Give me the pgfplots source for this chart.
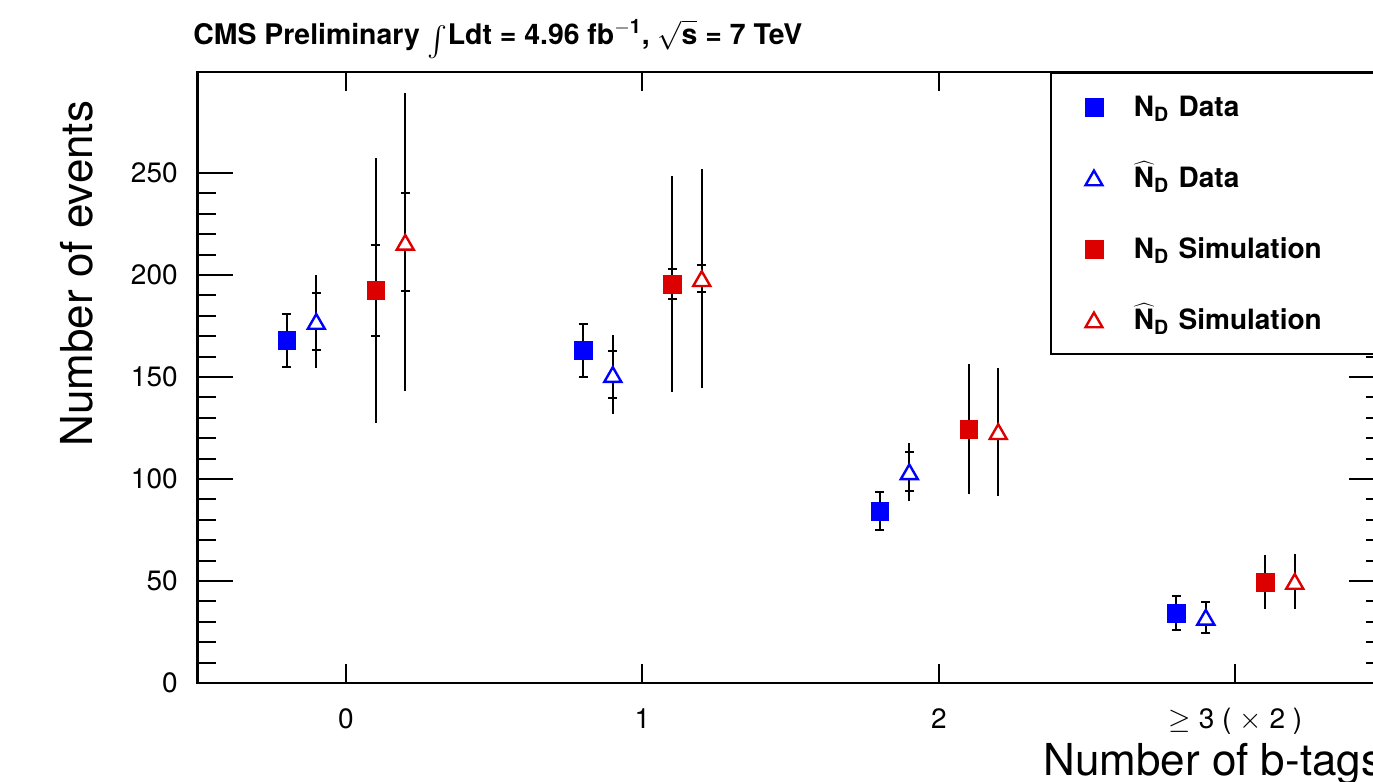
\documentclass[border=0pt]{standalone}
\usepackage{fontspec}
\setmainfont{TeX Gyre Heros}
\usepackage{graphicx}
\usepackage{pgfplots}
\pgfplotsset{compat=1.18}
\definecolor{rblue}{HTML}{0000FF}
\definecolor{rred}{HTML}{DD0000}

% x  y  inner error  outer error
\pgfplotstableread{
x y ein eout
-0.2 168.0 13.0 13.0
0.8 163.0 12.8 12.8
1.8 84.2 9.3 9.3
2.8 34.3 8.3 8.3
}\nddata
\pgfplotstableread{
x y ein eout
-0.1 177.2 13.8 23.0
0.9 151.2 11.5 19.5
1.9 103.5 9.6 14.3
2.9 32.2 7.5 7.5
}\nhdata
\pgfplotstableread{
x y ein eout
0.1 192.4 22.2 65.1
1.1 195.6 7.2 53.0
2.1 124.5 0 31.7
3.1 49.5 0 13.4
}\ndsim
\pgfplotstableread{
x y ein eout
0.2 216.0 24.0 73.0
1.2 198.2 6.7 53.7
2.2 123.2 0 31.4
3.2 49.8 0 13.4
}\nhsim

\pgfplotsset{
  outer err/.style={draw=none, mark=none, forget plot,
    error bars/.cd, y dir=both, y explicit, error mark=none,
    error bar style={draw=black, line width=1pt}},
  inner err/.style={draw=none, mark=none, forget plot,
    error bars/.cd, y dir=both, y explicit, error mark=-,
    error bar style={draw=black, line width=1pt},
    error mark options={rotate=90, mark size=2.2pt, draw=black, line width=1pt}},
}
\newcommand{\Nhat}{\ensuremath{\widehat{\mbox{N}}}}

\begin{document}
\begin{tikzpicture}
\useasboundingbox (0,0) rectangle (686.5pt,391pt);
\clip (0,0) rectangle (686.5pt,391pt);
\begin{axis}[
  at={(98.85pt,49.5pt)}, anchor=south west,
  scale only axis, width=593pt, height=305.5pt,
  xmin=-0.5, xmax=3.5, ymin=0, ymax=299.5,
  xtick={0,1,2,3},
  xticklabels={0,1,2,{$\geq$ 3 ( $\times$ 2 )}},
  ytick={0,50,100,150,200,250},
  minor y tick num=4,
  axis line style={line width=1.2pt},
  tick style={black, line width=1pt},
  major tick length=17.5pt, minor tick length=9pt,
  xtick style={/pgfplots/major tick length=9.5pt},
  /pgf/number format/assume math mode=true,
  tick label style={font=\fontsize{14}{16}\selectfont},
  xticklabel style={inner sep=0pt, text height=10pt, text depth=3pt, yshift=-12.5pt},
  yticklabel style={inner sep=0pt, xshift=-9.8pt},
  xlabel={Number of b-tags},
  xlabel style={at={(axis description cs:1,-0.1506)}, anchor=base east, inner sep=0pt, font=\fontsize{22}{26}\selectfont},
  ylabel={Number of events},
  ylabel style={at={(axis description cs:-0.0874,0.670)}, anchor=south, inner sep=0pt, font=\fontsize{22}{26}\selectfont},
  title={CMS Preliminary \raisebox{-0.55ex}{\scalebox{1.5}{$\int$}}Ldt = 4.96 fb$^{\mathbf{-1}}$, $\sqrt{\mbox{\bfseries s}}$ = 7 TeV},
  title style={at={(axis description cs:-0.004,1.026)}, anchor=base west, inner sep=0pt, font=\fontsize{14.2}{16}\selectfont\bfseries},
  legend cell align=left,
  legend image code/.code={%
    \path[draw=none, fill=none] (0pt,-1pt) rectangle (20pt,1pt);
    \draw[mark repeat=2,mark phase=2,#1] plot coordinates {(0pt,0pt)(10pt,0pt)(20pt,0pt)};},
  legend style={at={(0.7186,1)}, anchor=north west, draw=black, line width=1pt, fill=white,
    font=\fontsize{14}{16}\selectfont\bfseries,
    inner xsep=11.5pt, inner ysep=10pt, row sep=21.5pt,
    nodes={inner sep=0pt, text height=12pt, text depth=2pt},
    /tikz/every odd column/.append style={column sep=10pt},
    /tikz/every even column/.append style={text width=150pt}},
]
% outer (total) error lines
\addplot[outer err] table[x=x, y=y, y error=eout] {\nhdata};
\addplot[outer err] table[x=x, y=y, y error=eout] {\ndsim};
\addplot[outer err] table[x=x, y=y, y error=eout] {\nhsim};
% inner error with ticks
\addplot[inner err] table[x=x, y=y, y error=ein] {\nddata};
\addplot[inner err] table[x=x, y=y, y error=ein] {\nhdata};
\addplot[inner err] table[x=x, y=y, y error=ein] {\ndsim};
\addplot[inner err] table[x=x, y=y, y error=ein] {\nhsim};
% markers
\addplot[only marks, mark=square*, mark size=4.4pt, mark options={draw=rblue, fill=rblue, line width=0.2pt}] table[x=x, y=y] {\nddata};
\addlegendentry{N\textsubscript{D} Data}
\addplot[only marks, mark=triangle*, mark size=4.9pt, mark options={draw=rblue, fill=white, line width=1.2pt, yshift=-1.2pt}] table[x=x, y=y] {\nhdata};
\addlegendentry{\Nhat\textsubscript{D} Data}
\addplot[only marks, mark=square*, mark size=4.4pt, mark options={draw=rred, fill=rred, line width=0.2pt}] table[x=x, y=y] {\ndsim};
\addlegendentry{N\textsubscript{D} Simulation}
\addplot[only marks, mark=triangle*, mark size=4.9pt, mark options={draw=rred, fill=white, line width=1.2pt, yshift=-1.2pt}] table[x=x, y=y] {\nhsim};
\addlegendentry{\Nhat\textsubscript{D} Simulation}
\end{axis}
\end{tikzpicture}
\end{document}
